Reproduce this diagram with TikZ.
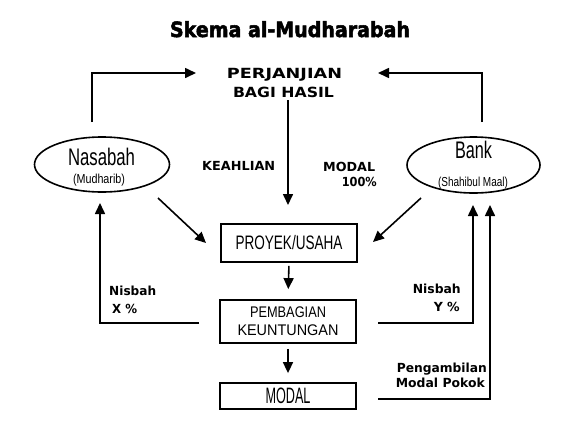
\documentclass[tikz,border=0pt]{standalone}
\usepackage{fontspec}
\usepackage{graphicx}
\setmainfont{Liberation Sans}
\newfontfamily\titlefont{DejaVu Sans}[BoldFeatures={FakeBold=2.5}]
\newfontfamily\lblfont{DejaVu Sans}
\usetikzlibrary{arrows.meta,shapes.geometric}
\newcommand\fitw[2]{\resizebox{#1}{\height}{#2}}
\tikzset{
  arr/.style={-{Triangle[length=11pt,width=10pt]}, line width=1.6pt},
  boxn/.style={draw, rectangle, minimum width=136pt, inner sep=0pt, line width=1.8pt, align=center},
  ell/.style={draw, ellipse, inner sep=0pt, line width=1.6pt},
  lbl/.style={font=\lblfont\bfseries\fontsize{12.5}{14}\selectfont, inner sep=0pt},
  big/.style={font=\lblfont\bfseries\fontsize{14}{16}\selectfont, inner sep=0pt, anchor=base},
  thin/.style={inner sep=0pt, anchor=base},
}
\begin{document}
\begin{tikzpicture}[x=1pt,y=-1pt]
\useasboundingbox (0,0) rectangle (570,429);

% title
\node[anchor=base, inner sep=0pt, font=\titlefont\bfseries\fontsize{21}{24}\selectfont] (title) at (290,37) {\fitw{240pt}{Skema al-Mudharabah}};

% agreement
\node[big] (perj) at (284.5,78) {\fitw{115pt}{PERJANJIAN}};
\node[big] (bagi) at (283.5,97) {\fitw{101pt}{BAGI HASIL}};

% ellipses
\node[ell, minimum width=135pt, minimum height=55pt] (nas) at (102,164.5) {};
\node[thin, font=\fontsize{24}{26}\selectfont] (nasT) at (101.5,165) {\fitw{67pt}{Nasabah}};
\node[thin, font=\fontsize{13}{15}\selectfont] (nasS) at (99,183) {\fitw{52pt}{(Mudharib)}};

\node[ell, minimum width=133pt, minimum height=56pt] (bank) at (473.5,165) {};
\node[thin, font=\fontsize{24}{26}\selectfont] (bankT) at (473.5,158) {\fitw{37pt}{Bank}};
\node[thin, font=\fontsize{13}{15}\selectfont] (bankS) at (473,186) {\fitw{70pt}{(Shahibul Maal)}};

% boxes
\node[boxn, minimum height=38pt, font=\fontsize{19.5}{22}\selectfont] (proy) at (289,243) {\fitw{107pt}{PROYEK/USAHA}};
\node[boxn, minimum height=43pt, font=\fontsize{15.4}{18}\selectfont] (pemb) at (288,321.5) {\fitw{76pt}{PEMBAGIAN}\\\fitw{101pt}{KEUNTUNGAN}};
\node[boxn, minimum height=26pt, font=\fontsize{22.3}{24}\selectfont] (modal) at (288,396) {\fitw{45pt}{MODAL}};

% labels
\node[lbl, anchor=base west] (keah) at (202,170) {\fitw{73pt}{KEAHLIAN}};
\node[lbl, anchor=base west] (modl) at (323,171) {\fitw{52pt}{MODAL}};
\node[lbl, anchor=base east] (pct) at (377,186) {\fitw{35pt}{100\%}};
\node[lbl, anchor=base west] (nisL) at (109,295) {\fitw{47pt}{Nisbah}};
\node[lbl, anchor=base west] (xp) at (112,313) {\fitw{25pt}{X \%}};
\node[lbl, anchor=base east] (nisR) at (461,293) {\fitw{48pt}{Nisbah}};
\node[lbl, anchor=base east] (yp) at (460,311) {\fitw{26pt}{Y \%}};
\node[lbl, anchor=base east] (peng) at (487,372) {\fitw{90pt}{Pengambilan}};
\node[lbl, anchor=base east] (mpok) at (485,387) {\fitw{89pt}{Modal Pokok}};

% routing coordinates
\coordinate (nasUp) at (92,122);
\coordinate (perjL) at (196,73);
\coordinate (bankUp) at (482,122);
\coordinate (perjR) at (378,73);
\coordinate (kTop) at (288,100);
\coordinate (kEnd) at (288,205);
\coordinate (nasD) at (158,198);
\coordinate (proyL) at (206,243);
\coordinate (bankD) at (421,198);
\coordinate (proyR) at (373,242);
\coordinate (pembL) at (199,323);
\coordinate (nasB) at (100,203);
\coordinate (pembR) at (378,323);
\coordinate (bankB1) at (473,205);
\coordinate (modR) at (378,399);
\coordinate (bankB2) at (490,205);

% connectors
\draw[arr] (nasUp) |- (perjL);
\draw[arr] (bankUp) |- (perjR);
\draw[arr] (kTop) -- (kEnd);
\draw[arr] (nasD) -- (proyL);
\draw[arr] (bankD) -- (proyR);
\draw[arr, shorten <=3pt, shorten >=10pt] (proy.south) -- (pemb.north);
\draw[arr, shorten <=5pt, shorten >=9pt] (pemb.south) -- (modal.north);
\draw[arr] (pembL) -| (nasB);
\draw[arr] (pembR) -| (bankB1);
\draw[arr] (modR) -| (bankB2);
\end{tikzpicture}
\end{document}
